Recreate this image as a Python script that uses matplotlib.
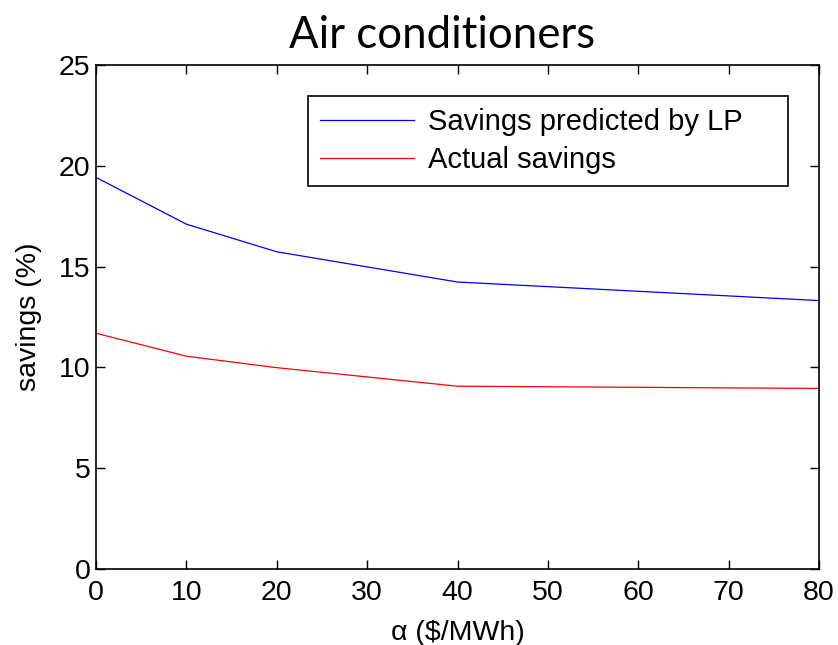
import numpy as np
import matplotlib
matplotlib.use("Agg")
import matplotlib.pyplot as plt

# alpha values ($/MWh) and savings (%)
alpha = [0, 10, 20, 40, 80]
predicted = [19.43, 17.11, 15.74, 14.24, 13.32]
actual = [11.70, 10.56, 9.99, 9.07, 8.96]

plt.rcParams['font.family'] = ['Liberation Sans', 'DejaVu Sans']

fig = plt.figure(figsize=(8.38, 6.45), dpi=100)
ax = fig.add_axes([0.1146, 0.1178, 0.8627, 0.7812])

ax.plot(alpha, predicted, color='#0000ff', lw=0.9, label='Savings predicted by LP')
ax.plot(alpha, actual, color='#ff0000', lw=0.9, label='Actual savings')

ax.set_xlim(0, 80)
ax.set_ylim(0, 25)
ax.set_xticks(np.arange(0, 81, 10))
ax.set_yticks(np.arange(0, 26, 5))
ax.tick_params(direction='in', top=True, right=True, labelsize=20.5, length=6.5, width=1)
ax.tick_params(axis='x', pad=8)
ax.tick_params(axis='y', pad=4)
for s in ax.spines.values():
    s.set_linewidth(1.2)

ax.set_xlabel(r'α (\$/MWh)', fontsize=20.5, labelpad=10)
ax.set_ylabel('savings (%)', fontsize=20.5, labelpad=12)
ax.set_title('Air conditioners', fontsize=31.5, family=['Lato', 'DejaVu Sans'],
             x=0.4786, pad=12)

leg = ax.legend(loc='upper left', bbox_to_anchor=(0.2932, 0.0, 0.664, 0.938),
                mode='expand', borderaxespad=0,
                fontsize=21, fancybox=False, edgecolor='black', framealpha=1,
                handlelength=3.25, handletextpad=0.45, borderpad=0.4, labelspacing=0.35)
leg.get_frame().set_linewidth(1.2)

fig.savefig('out.png', dpi=100)
